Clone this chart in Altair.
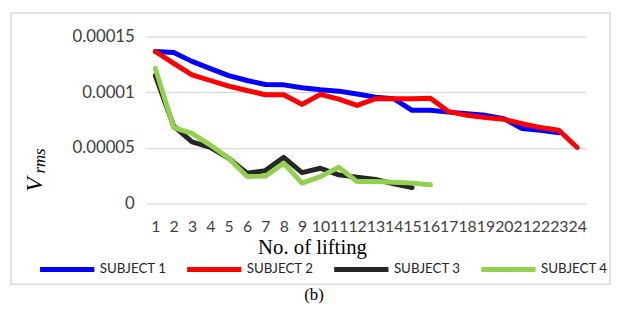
import altair as alt
import pandas as pd

lifting = list(range(1, 25))
subjects = ["SUBJECT 1", "SUBJECT 2", "SUBJECT 3", "SUBJECT 4"]
colors = ["#0000FF", "#FF0000", "#262626", "#92D050"]

s1 = [0.0001366, 0.0001357, 0.0001277, 0.0001212, 0.0001149, 0.0001105, 0.0001069,
      0.0001066, 0.0001040, 0.0001022, 0.0001009, 0.0000984, 0.0000955, 0.0000941,
      0.0000837, 0.0000837, 0.0000821, 0.0000807, 0.0000792, 0.0000762, 0.0000673,
      0.0000658, 0.0000634]
s2 = [0.0001366, 0.0001259, 0.0001155, 0.0001105, 0.0001054, 0.0001015, 0.0000977,
      0.0000977, 0.0000890, 0.0000980, 0.0000937, 0.0000881, 0.0000941, 0.0000941,
      0.0000941, 0.0000946, 0.0000825, 0.0000792, 0.0000771, 0.0000756, 0.0000718,
      0.0000682, 0.0000658, 0.0000503]
s3 = [0.0001149, 0.0000694, 0.0000554, 0.0000503, 0.0000405, 0.0000271, 0.0000295,
      0.0000414, 0.0000277, 0.0000316, 0.0000256, 0.0000236, 0.0000215, 0.0000175,
      0.0000142]
s4 = [0.0001214, 0.0000682, 0.0000629, 0.0000524, 0.0000405, 0.0000241, 0.0000245,
      0.0000361, 0.0000182, 0.0000241, 0.0000325, 0.0000196, 0.0000196, 0.0000190,
      0.0000182, 0.0000168]
y_ticks = [0, 0.00005, 0.0001, 0.00015]

rows = []
for name, series in zip(subjects, [s1, s2, s3, s4]):
    for i, v in enumerate(series):
        rows.append({"lifting": lifting[i], "value": v, "subject": name})
df = pd.DataFrame(rows)

W, H = 446, 169

lines = alt.Chart(df).mark_line(strokeWidth=5, strokeCap="round", strokeJoin="round").encode(
    x=alt.X("lifting:O", scale=alt.Scale(type="point", padding=0.5, domain=lifting),
            axis=alt.Axis(title="No. of lifting", labelAngle=0, labelFont="Lato",
                          labelFontSize=16, labelColor="#404040", labelPadding=15,
                          domain=False, ticks=False, grid=False,
                          titleFont="Liberation Serif", titleFontSize=21,
                          titleFontWeight="normal", titleColor="#000000",
                          titleX=168, titleY=34, titleAlign="center")),
    y=alt.Y("value:Q", scale=alt.Scale(domain=[0, 0.00015], nice=False),
            axis=alt.Axis(title=None, values=y_ticks, format=".5~f", labelFont="Lato",
                          labelFontSize=17, labelColor="#404040", labelPadding=12,
                          domain=False, ticks=False, gridColor="#D9D9D9",
                          gridWidth=1.3)),
    color=alt.Color("subject:N", scale=alt.Scale(domain=subjects, range=colors),
                    legend=alt.Legend(title=None, orient="none", direction="horizontal",
                                      legendX=-110, legendY=206, columns=4,
                                      symbolType="stroke", symbolSize=3025,
                                      symbolStrokeWidth=5, labelFont="Lato",
                                      labelFontSize=13.5, labelColor="#262626",
                                      labelOffset=3, columnPadding=10,
                                      labelLimit=200)),
    order="lifting:O",
)

frame = alt.Chart(pd.DataFrame({"k": [0]})).mark_rect(
    fill=None, stroke="#D9D9D9", strokeWidth=1.5, clip=False
).encode(x=alt.value(-137), x2=alt.value(470), y=alt.value(-24), y2=alt.value(251))

ytitle_v = alt.Chart(pd.DataFrame({"t": ["V"]})).mark_text(
    font="Liberation Serif", fontSize=24, fontStyle="italic", angle=270,
    align="center", baseline="middle", color="#000000"
).encode(text="t:N", x=alt.value(-113), y=alt.value(150))

ytitle_rms = alt.Chart(pd.DataFrame({"t": ["rms"]})).mark_text(
    font="Liberation Serif", fontSize=17, fontStyle="italic", angle=270,
    align="center", baseline="middle", color="#000000"
).encode(text="t:N", x=alt.value(-108), y=alt.value(126))

caption = alt.Chart(pd.DataFrame({"t": ["(b)"]})).mark_text(
    font="Liberation Serif", fontSize=17, align="center", baseline="middle",
    color="#000000"
).encode(text="t:N", x=alt.value(170), y=alt.value(262))

chart = alt.layer(frame, lines, ytitle_v, ytitle_rms, caption).properties(
    width=W, height=H,
    autosize=alt.AutoSizeParams(type="none"),
    padding={"left": 140, "top": 27, "right": 26, "bottom": 100},
).configure_view(stroke=None)

chart.save("out.html", embed_options={"renderer": "svg", "actions": False})
